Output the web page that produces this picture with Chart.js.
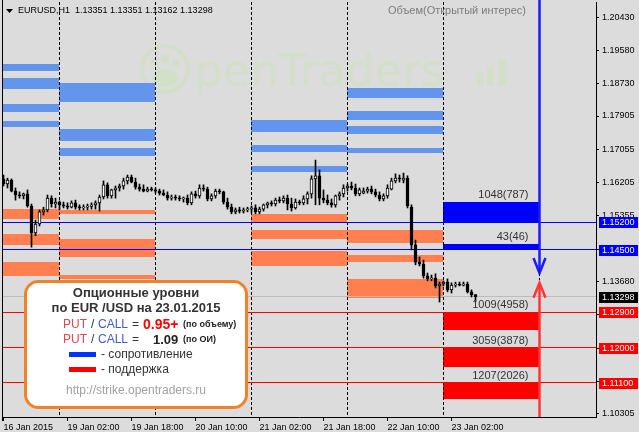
<!DOCTYPE html>
<html>
<head>
<meta charset="utf-8">
<script src="https://cdn.jsdelivr.net/npm/chart.js@4.4.1/dist/chart.umd.min.js"></script>
<style>
  html, body { margin: 0; padding: 0; background: #dcdcdc; }
  canvas { display: block; }
</style>
</head>
<body>
<canvas id="chart" width="639" height="432" style="width:639px;height:432px"></canvas>
<script>
// EURUSD H1 + option levels (strike.opentraders.ru)

// candles: 16 Jan 10:00 ... 23 Jan 08:00, one per hour
const barOpen = [
  1.1630, 1.1617, 1.1627, 1.1599, 1.1589, 1.1587, 1.1592, 1.1561, 1.1492, 1.1515, 1.1546, 1.1551, 1.1581, 1.1566,
  1.1571, 1.1564, 1.1561, 1.1558, 1.1569, 1.1558, 1.1556, 1.1558, 1.1560, 1.1564, 1.1569, 1.1584, 1.1615, 1.1587, 1.1602, 1.1607, 1.1612, 1.1625, 1.1635, 1.1622, 1.1609, 1.1604, 1.1599, 1.1604,
  1.1602, 1.1599, 1.1594, 1.1589, 1.1581, 1.1584, 1.1581, 1.1579, 1.1581, 1.1569, 1.1592, 1.1587, 1.1607, 1.1604, 1.1579, 1.1587, 1.1599, 1.1597, 1.1571, 1.1558, 1.1546, 1.1551, 1.1548, 1.1551,
  1.1553, 1.1556, 1.1546, 1.1553, 1.1564, 1.1569, 1.1566, 1.1576, 1.1574, 1.1581, 1.1566, 1.1556, 1.1571, 1.1569, 1.1579, 1.1592, 1.1630, 1.1638, 1.1581, 1.1576, 1.1569, 1.1564, 1.1587, 1.1592,
  1.1607, 1.1612, 1.1607, 1.1592, 1.1594, 1.1599, 1.1604, 1.1597, 1.1589, 1.1579, 1.1587, 1.1604, 1.1625, 1.1632, 1.1627, 1.1632, 1.1558, 1.1462, 1.1418, 1.1413, 1.1383, 1.1375, 1.1377, 1.1357,
  1.1362, 1.1367, 1.1347, 1.1359, 1.1362, 1.1359, 1.1362, 1.1342, 1.13351
];
const barHigh = [
  1.1640, 1.1632, 1.1630, 1.1607, 1.1597, 1.1594, 1.1602, 1.1566, 1.1525, 1.1551, 1.1558, 1.1589, 1.1587, 1.1581,
  1.1574, 1.1571, 1.1569, 1.1574, 1.1576, 1.1564, 1.1564, 1.1566, 1.1569, 1.1574, 1.1589, 1.1625, 1.1620, 1.1604, 1.1612, 1.1617, 1.1632, 1.1640, 1.1640, 1.1632, 1.1617, 1.1615, 1.1609, 1.1609,
  1.1607, 1.1604, 1.1602, 1.1597, 1.1589, 1.1589, 1.1587, 1.1584, 1.1589, 1.1597, 1.1599, 1.1615, 1.1615, 1.1609, 1.1592, 1.1604, 1.1604, 1.1599, 1.1581, 1.1566, 1.1556, 1.1558, 1.1556, 1.1558,
  1.1561, 1.1564, 1.1558, 1.1566, 1.1571, 1.1574, 1.1581, 1.1584, 1.1587, 1.1589, 1.1581, 1.1579, 1.1576, 1.1587, 1.1597, 1.1638, 1.1678, 1.1653, 1.1602, 1.1589, 1.1579, 1.1589, 1.1597, 1.1615,
  1.1617, 1.1622, 1.1617, 1.1607, 1.1607, 1.1609, 1.1612, 1.1604, 1.1597, 1.1592, 1.1615, 1.1632, 1.1643, 1.1640, 1.1645, 1.1638, 1.1564, 1.1474, 1.1431, 1.1423, 1.1390, 1.1385, 1.1388, 1.1367,
  1.1370, 1.1375, 1.1365, 1.1367, 1.1367, 1.1367, 1.1367, 1.1347, 1.13351
];
const barLow = [
  1.1612, 1.1607, 1.1597, 1.1576, 1.1581, 1.1579, 1.1558, 1.1456, 1.1485, 1.1510, 1.1538, 1.1546, 1.1558, 1.1556,
  1.1551, 1.1556, 1.1553, 1.1556, 1.1553, 1.1551, 1.1551, 1.1551, 1.1553, 1.1553, 1.1548, 1.1579, 1.1581, 1.1581, 1.1581, 1.1599, 1.1604, 1.1617, 1.1620, 1.1604, 1.1599, 1.1597, 1.1597, 1.1599,
  1.1594, 1.1589, 1.1587, 1.1576, 1.1576, 1.1576, 1.1574, 1.1571, 1.1564, 1.1564, 1.1581, 1.1581, 1.1599, 1.1574, 1.1574, 1.1581, 1.1592, 1.1566, 1.1553, 1.1541, 1.1541, 1.1543, 1.1543, 1.1546,
  1.1543, 1.1541, 1.1541, 1.1548, 1.1556, 1.1561, 1.1561, 1.1569, 1.1569, 1.1551, 1.1548, 1.1553, 1.1564, 1.1564, 1.1566, 1.1581, 1.1564, 1.1564, 1.1569, 1.1564, 1.1558, 1.1558, 1.1576, 1.1584,
  1.1599, 1.1602, 1.1587, 1.1587, 1.1592, 1.1594, 1.1592, 1.1584, 1.1574, 1.1574, 1.1581, 1.1602, 1.1620, 1.1622, 1.1620, 1.1556, 1.1449, 1.1411, 1.1408, 1.1377, 1.1370, 1.1370, 1.1352, 1.1316,
  1.1357, 1.1342, 1.1339, 1.1354, 1.1357, 1.1357, 1.1339, 1.1329, 1.13162
];
const barClose = [
  1.1617, 1.1627, 1.1599, 1.1589, 1.1587, 1.1592, 1.1561, 1.1492, 1.1515, 1.1546, 1.1551, 1.1581, 1.1566, 1.1571,
  1.1564, 1.1561, 1.1558, 1.1569, 1.1558, 1.1556, 1.1558, 1.1560, 1.1564, 1.1569, 1.1584, 1.1615, 1.1587, 1.1602, 1.1607, 1.1612, 1.1625, 1.1635, 1.1622, 1.1609, 1.1604, 1.1599, 1.1604, 1.1602,
  1.1599, 1.1594, 1.1589, 1.1581, 1.1584, 1.1581, 1.1579, 1.1581, 1.1569, 1.1592, 1.1587, 1.1607, 1.1604, 1.1579, 1.1587, 1.1599, 1.1597, 1.1571, 1.1558, 1.1546, 1.1551, 1.1548, 1.1551, 1.1553,
  1.1556, 1.1546, 1.1553, 1.1564, 1.1569, 1.1566, 1.1576, 1.1574, 1.1581, 1.1566, 1.1556, 1.1571, 1.1569, 1.1579, 1.1592, 1.1630, 1.1638, 1.1581, 1.1576, 1.1569, 1.1564, 1.1587, 1.1592, 1.1607,
  1.1612, 1.1607, 1.1592, 1.1602, 1.1599, 1.1604, 1.1597, 1.1589, 1.1579, 1.1587, 1.1607, 1.1625, 1.1632, 1.1630, 1.1632, 1.1561, 1.1462, 1.1418, 1.1413, 1.1383, 1.1375, 1.1377, 1.1357, 1.1362,
  1.1367, 1.1347, 1.1359, 1.1362, 1.1359, 1.1362, 1.1342, 1.1335, 1.13298
];

const xTickBars = [0, 16, 32, 48, 64, 80, 96, 112];
const xTickLabels = ['16 Jan 2015', '19 Jan 02:00', '19 Jan 18:00', '20 Jan 10:00', '21 Jan 02:00', '21 Jan 18:00', '22 Jan 10:00', '23 Jan 02:00'];
const yTicks = [1.10305, 1.11130, 1.11980, 1.12830, 1.13680, 1.14505, 1.15355, 1.16205, 1.17055, 1.17905, 1.18730, 1.19580, 1.20430];

// day columns (bar index where each day starts), last one = end of today's column
const dayBounds = [-1, 14, 38, 62, 86, 110, 134];
const daySeparators = [14, 38, 62, 86, 110];

// resistance (call) levels of previous days
const resDay = [0, 0, 0, 0, 1, 1, 1, 3, 3, 3, 4, 4, 4, 4];
const resLo = [1.19053, 1.18594, 1.18007, 1.17625, 1.18262, 1.17268, 1.16885, 1.17497, 1.16987, 1.16477, 1.18364, 1.17803, 1.17446, 1.16962];
const resHi = [1.19231, 1.18874, 1.18211, 1.17778, 1.18747, 1.17574, 1.17089, 1.17803, 1.17166, 1.16630, 1.18619, 1.18033, 1.17650, 1.17089];
// support (put) levels of previous days
const supDay = [0, 0, 0, 1, 1, 1, 3, 3, 3, 4, 4, 4];
const supLo = [1.15278, 1.14615, 1.13825, 1.15406, 1.14309, 1.13748, 1.15202, 1.14768, 1.14080, 1.14666, 1.14182, 1.13263];
const supHi = [1.15533, 1.14896, 1.14182, 1.15508, 1.14768, 1.13850, 1.15406, 1.14998, 1.14462, 1.14998, 1.14360, 1.13748];

// today 23.01.2015
const callLevels = [1.1520, 1.1450];
const callTops = [1.1571, 1.1464];
const callLabels = ['1048(787)', '43(46)'];
const putLevels = [1.1290, 1.1200, 1.1110];
const putBottoms = [1.1245, 1.1150, 1.1069];
const putLabels = ['1009(4958)', '3059(3878)', '1207(2026)'];

const lastPrice = 1.13298;
const arrowBar = 134;
const arrowDownTip = 1.1390;
const arrowUpTip = 1.1365;

const FONT = '"Liberation Sans", Arial, sans-serif';
Chart.defaults.font.family = FONT;

function drawWatermark(c) {
  const col = 'rgb(211,224,201)';
  c.fillStyle = col;
  c.strokeStyle = col;
  c.lineWidth = 4;
  c.beginPath(); c.arc(165, 69, 23, 0, Math.PI * 2); c.stroke();
  [[154, 63, 4], [165, 59, 4.5], [176, 63, 4]].forEach(([cx, cy, r]) => {
    c.beginPath(); c.arc(cx, cy, r, 0, Math.PI * 2); c.fill();
  });
  c.beginPath(); c.ellipse(165, 78, 13, 9, 0, 0, Math.PI * 2); c.fill();
  c.font = '45px "DejaVu Sans"';
  c.textAlign = 'left';
  c.textBaseline = 'alphabetic';
  c.fillText('penTraders', 194, 86);
  c.fillRect(477, 73, 6, 13);
  c.fillRect(487, 67, 6, 19);
  c.fillRect(498, 60, 8, 26);
}

function roundRect(c, x, y, w, h, r) {
  c.beginPath();
  c.moveTo(x + r, y);
  c.arcTo(x + w, y, x + w, y + h, r);
  c.arcTo(x + w, y + h, x, y + h, r);
  c.arcTo(x, y + h, x, y, r);
  c.arcTo(x, y, x + w, y, r);
  c.closePath();
}

const optionLevels = {
  id: 'optionLevels',
  beforeDraw(chart) {
    const c = chart.ctx;
    c.save();
    c.fillStyle = '#dcdcdc';
    c.fillRect(0, 0, chart.width, chart.height);
    drawWatermark(c);
    c.restore();
  },
  beforeDatasetsDraw(chart) {
    const c = chart.ctx, a = chart.chartArea, x = chart.scales.x, y = chart.scales.y;
    c.save();
    c.beginPath(); c.rect(a.left, a.top, a.right - a.left, a.bottom - a.top); c.clip();

    const box = (b0, b1, p0, p1, color) => {
      const x0 = Math.floor(x.getPixelForValue(b0)), x1 = Math.floor(x.getPixelForValue(b1));
      const y0 = Math.round(y.getPixelForValue(p1)), y1 = Math.round(y.getPixelForValue(p0));
      c.fillStyle = color;
      c.fillRect(x0, y0, x1 - x0, y1 - y0);
    };
    resDay.forEach((d, i) => box(dayBounds[d], dayBounds[d + 1], resLo[i], resHi[i], '#6495ed'));
    supDay.forEach((d, i) => box(dayBounds[d], dayBounds[d + 1], supLo[i], supHi[i], '#ff7f50'));
    const t = dayBounds.length - 2;
    callLevels.forEach((p, i) => box(dayBounds[t], dayBounds[t + 1], p, callTops[i], '#0000ff'));
    putLevels.forEach((p, i) => box(dayBounds[t], dayBounds[t + 1], putBottoms[i], p, '#ff0000'));

    c.lineWidth = 1;
    c.strokeStyle = '#000';
    c.setLineDash([3, 2]);
    daySeparators.forEach(b => {
      const sx = Math.floor(x.getPixelForValue(b)) + 0.5;
      c.beginPath(); c.moveTo(sx, a.top); c.lineTo(sx, a.bottom); c.stroke();
    });
    c.setLineDash([]);

    const hline = (p, color) => {
      const yy = Math.floor(y.getPixelForValue(p)) + 0.5;
      c.strokeStyle = color;
      c.beginPath(); c.moveTo(a.left, yy); c.lineTo(a.right, yy); c.stroke();
    };
    hline(lastPrice, '#bcbcbc');
    callLevels.forEach(p => hline(p, '#0000ff'));
    putLevels.forEach(p => hline(p, '#ff0000'));
    c.restore();
  },
  afterDraw(chart) {
    const c = chart.ctx, a = chart.chartArea, x = chart.scales.x, y = chart.scales.y;
    c.save();

    // left frame
    c.strokeStyle = '#000';
    c.lineWidth = 1;
    c.beginPath(); c.moveTo(a.left + 0.5, 0); c.lineTo(a.left + 0.5, a.bottom + 4); c.stroke();

    // volume (open interest) captions over today's blocks
    const t = dayBounds.length - 2;
    const lx = x.getPixelForValue(dayBounds[t + 1]) - 11;
    c.font = '11px ' + FONT;
    c.fillStyle = '#333';
    c.textAlign = 'right';
    c.textBaseline = 'middle';
    callLevels.forEach((p, i) => c.fillText(callLabels[i], lx, y.getPixelForValue(callTops[i]) - 7));
    putLevels.forEach((p, i) => c.fillText(putLabels[i], lx, y.getPixelForValue(p) - 7));

    // arrows
    const ax = x.getPixelForValue(arrowBar);
    const dY = y.getPixelForValue(arrowDownTip), uY = y.getPixelForValue(arrowUpTip);
    c.lineWidth = 2.5;
    c.strokeStyle = '#1a1aff';
    c.beginPath(); c.moveTo(ax, 0); c.lineTo(ax, dY - 2); c.stroke();
    c.beginPath(); c.moveTo(ax - 6, dY - 15); c.lineTo(ax, dY); c.lineTo(ax + 6, dY - 15); c.stroke();
    c.lineWidth = 1;
    c.strokeStyle = '#000';
    c.setLineDash([2, 2]);
    c.beginPath(); c.moveTo(ax, dY + 1); c.lineTo(ax, uY - 1); c.stroke();
    c.setLineDash([]);
    c.lineWidth = 2.5;
    c.strokeStyle = '#ff3535';
    c.beginPath(); c.moveTo(ax, uY + 2); c.lineTo(ax, a.bottom); c.stroke();
    c.beginPath(); c.moveTo(ax - 6, uY + 15); c.lineTo(ax, uY); c.lineTo(ax + 6, uY + 15); c.stroke();

    // price tags on the right axis
    const tag = (p, bg) => {
      const yy = Math.round(y.getPixelForValue(p));
      c.fillStyle = bg;
      c.fillRect(a.right + 3, yy - 5, 39, 11);
      c.fillStyle = '#fff';
      c.font = '9px ' + FONT;
      c.textAlign = 'left';
      c.textBaseline = 'middle';
      c.fillText(p.toFixed(5), a.right + 6, yy + 0.5);
    };
    callLevels.forEach(p => tag(p, '#0000ff'));
    putLevels.forEach(p => tag(p, '#ff0000'));
    tag(lastPrice, '#000');

    // header
    c.fillStyle = '#000';
    c.beginPath(); c.moveTo(6, 9); c.lineTo(13, 9); c.lineTo(9.5, 13); c.closePath(); c.fill();
    c.font = '9px ' + FONT;
    c.textAlign = 'left';
    c.textBaseline = 'middle';
    c.fillText('EURUSD,H1  1.13351 1.13351 1.13162 1.13298', 18, 11);
    c.fillStyle = '#7c7c7c';
    c.font = '11px ' + FONT;
    c.fillText('Объем(Открытый интерес)', 388, 11);

    // info box
    roundRect(c, 25.5, 281.5, 221, 126, 13);
    c.fillStyle = '#fff';
    c.fill();
    c.lineWidth = 3;
    c.strokeStyle = '#f28228';
    c.stroke();

    c.fillStyle = '#333';
    c.textAlign = 'center';
    c.font = 'bold 13px ' + FONT;
    c.fillText('Опционные уровни', 136, 293);
    c.fillText('по EUR /USD на 23.01.2015', 136, 308);

    c.textAlign = 'left';
    const run = (yy, parts) => parts.forEach(([tx, s, f, col]) => {
      c.font = f; c.fillStyle = col; c.fillText(s, tx, yy);
    });
    const reg = '12px ' + FONT;
    run(325, [[63, 'PUT', reg, '#e8454f'], [91, '/', reg, '#333'], [98, 'CALL', reg, '#3d5cd0'], [132, '=', reg, '#333'],
      [143, '0.95+', 'bold 14px ' + FONT, '#ff0000'], [183, '(по объему)', 'bold 9px ' + FONT, '#222']]);
    run(340, [[63, 'PUT', reg, '#e8454f'], [91, '/', reg, '#333'], [98, 'CALL', reg, '#3d5cd0'], [132, '=', reg, '#333'],
      [153, '1.09', 'bold 13px ' + FONT, '#222'], [183, '(по ОИ)', 'bold 9px ' + FONT, '#222']]);

    c.fillStyle = '#0033ff';
    c.fillRect(69, 352, 27, 5);
    c.fillStyle = '#ff0000';
    c.fillRect(69, 367, 27, 5);
    c.fillStyle = '#333';
    c.font = reg;
    c.fillText('- сопротивление', 101, 355);
    c.fillText('- поддержка', 101, 370);

    c.fillStyle = '#a0a0a0';
    c.textAlign = 'center';
    c.fillText('http://strike.opentraders.ru', 136, 391);
    c.restore();
  }
};

const bull = i => barClose[i] >= barOpen[i];

new Chart(document.getElementById('chart'), {
  type: 'bar',
  data: {
    datasets: [
      {
        label: 'body',
        data: barOpen.map((o, i) => ({x: i, y: [o, barClose[i]]})),
        barThickness: 3,
        borderWidth: 1,
        borderSkipped: false,
        borderColor: '#000',
        backgroundColor: ctx => bull(ctx.dataIndex) ? '#ffffff' : '#000000',
        minBarLength: 1,
        grouped: false
      },
      {
        label: 'wick',
        data: barLow.map((l, i) => ({x: i, y: [l, barHigh[i]]})),
        barThickness: 1,
        borderWidth: 0,
        backgroundColor: '#000',
        grouped: false
      }
    ]
  },
  options: {
    responsive: false,
    devicePixelRatio: 1,
    animation: false,
    events: [],
    layout: {padding: {left: 2, top: 2, right: 0, bottom: 0}},
    plugins: {legend: {display: false}, tooltip: {enabled: false}},
    scales: {
      x: {
        type: 'linear',
        min: -0.375,
        max: 148.125,
        offset: false,
        afterBuildTicks: s => { s.ticks = xTickBars.map(v => ({value: v})); },
        afterFit: s => { s.height = 15; s.paddingLeft = 0; s.paddingRight = 0; },
        grid: {display: true, drawOnChartArea: false, drawTicks: true, tickLength: 4, color: '#000', offset: false},
        border: {display: true, color: '#000'},
        ticks: {
          autoSkip: false, maxRotation: 0, minRotation: 0, align: 'start', padding: 1,
          color: '#000', font: {size: 9},
          callback: v => xTickLabels[xTickBars.indexOf(v)]
        }
      },
      y: {
        position: 'right',
        min: 1.10228,
        max: 1.20813,
        afterBuildTicks: s => { s.ticks = yTicks.map(v => ({value: v})); },
        afterFit: s => { s.width = 43; s.paddingTop = 0; s.paddingBottom = 0; },
        grid: {display: true, drawOnChartArea: false, drawTicks: true, tickLength: 3, color: '#000'},
        border: {display: true, color: '#000'},
        ticks: {color: '#000', font: {size: 9}, padding: 3, callback: v => v.toFixed(5)}
      }
    }
  },
  plugins: [optionLevels]
});
</script>
</body>
</html>
